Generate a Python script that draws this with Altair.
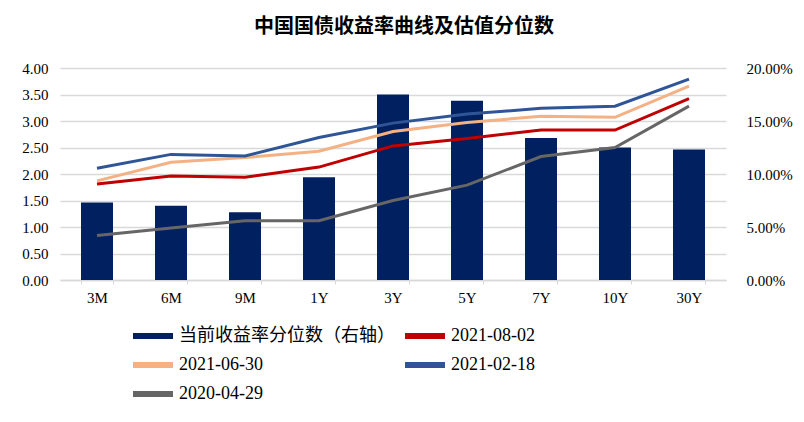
import altair as alt
import pandas as pd

tenors = ["3M", "6M", "9M", "1Y", "3Y", "5Y", "7Y", "10Y", "30Y"]
pct_now = [7.3, 7.0, 6.4, 9.7, 17.5, 16.9, 13.4, 12.5, 12.3]  # %
y_20210802 = [1.81, 1.96, 1.94, 2.13, 2.53, 2.67, 2.83, 2.83, 3.42]
y_20210630 = [1.87, 2.22, 2.31, 2.43, 2.80, 2.97, 3.09, 3.07, 3.66]
y_20210218 = [2.11, 2.37, 2.34, 2.69, 2.96, 3.13, 3.24, 3.28, 3.79]
y_20200429 = [0.84, 0.98, 1.12, 1.12, 1.50, 1.79, 2.33, 2.50, 3.28]

bar_name = "当前收益率分位数（右轴）"
series_names = ["2021-08-02", "2021-06-30", "2021-02-18", "2020-04-29"]
series_vals = [y_20210802, y_20210630, y_20210218, y_20200429]
domain = [bar_name] + series_names
colors = ["#002060", "#C00000", "#F4B183", "#2F5597", "#666666"]

bar_df = pd.DataFrame({"tenor": tenors, "pct": [v / 100 for v in pct_now], "s": bar_name})
rows = []
for name, vals in zip(series_names, series_vals):
    for t, v in zip(tenors, vals):
        rows.append({"tenor": t, "y": v, "s": name})
line_df = pd.DataFrame(rows)

FONT = "Liberation Serif, Noto Sans CJK SC"

color = alt.Color(
    "s:N",
    scale=alt.Scale(domain=domain, range=colors),
    legend=alt.Legend(
        title=None,
        orient="none",
        legendX=73,
        legendY=248,
        columns=2,
        direction="horizontal",
        symbolType="M-1,-0.15L1,-0.15L1,0.15L-1,0.15Z",
        symbolSize=1600,
        symbolStrokeWidth=0,
        labelFont=FONT,
        labelFontSize=18,
        labelColor="#000000",
        labelLimit=400,
        rowPadding=-7,
        columnPadding=10,
        symbolOffset=0,
        labelOffset=6,
        values=domain,
    ),
)

x = alt.X(
    "tenor:N",
    sort=tenors,
    scale=alt.Scale(paddingInner=0.57, paddingOuter=0.285),
    axis=alt.Axis(
        title=None,
        labelAngle=0,
        labelFont=FONT,
        labelFontSize=15,
        labelColor="#000000",
        domainColor="#d9d9d9",
        domainWidth=1.5,
        tickColor="#d9d9d9",
        tickSize=4,
        tickBand="extent",
        labelPadding=6,
        grid=False,
    ),
)

bars = alt.Chart(bar_df).mark_bar(size=32).encode(
    x=x,
    y=alt.Y(
        "pct:Q",
        scale=alt.Scale(domain=[0, 0.2], nice=False),
        axis=alt.Axis(
            title=None,
            orient="right",
            format=".2%",
            values=[0, 0.05, 0.10, 0.15, 0.20],
            labelFont=FONT,
            labelFontSize=15,
            labelColor="#000000",
            domain=False,
            ticks=False,
            grid=False,
            labelPadding=20,
        ),
    ),
    color=color,
)

lines = alt.Chart(line_df).mark_line(strokeWidth=3).encode(
    x=x,
    y=alt.Y(
        "y:Q",
        scale=alt.Scale(domain=[0, 4], nice=False),
        axis=alt.Axis(
            title=None,
            format=".2f",
            values=[0, 0.5, 1, 1.5, 2, 2.5, 3, 3.5, 4],
            labelFont=FONT,
            labelFontSize=15,
            labelColor="#000000",
            domain=False,
            ticks=False,
            grid=True,
            gridColor="#d9d9d9",
            gridWidth=1.5,
            labelPadding=12,
        ),
    ),
    color=color,
)

chart = (
    alt.layer(bars, lines)
    .resolve_scale(y="independent")
    .properties(
        width=666,
        height=212,
        autosize=alt.AutoSizeParams(type="none"),
        padding={"left": 52, "top": 60, "right": 70, "bottom": 126},
        title=alt.Title(
            "中国国债收益率曲线及估值分位数",
            font="Noto Sans CJK SC",
            fontSize=20,
            fontWeight="bold",
            color="#000000",
            anchor="middle",
            dx=11,
            offset=24,
        ),
    )
    .configure_view(stroke=None)
)

chart.save("out.html", embed_options={"renderer": "svg", "actions": False})
